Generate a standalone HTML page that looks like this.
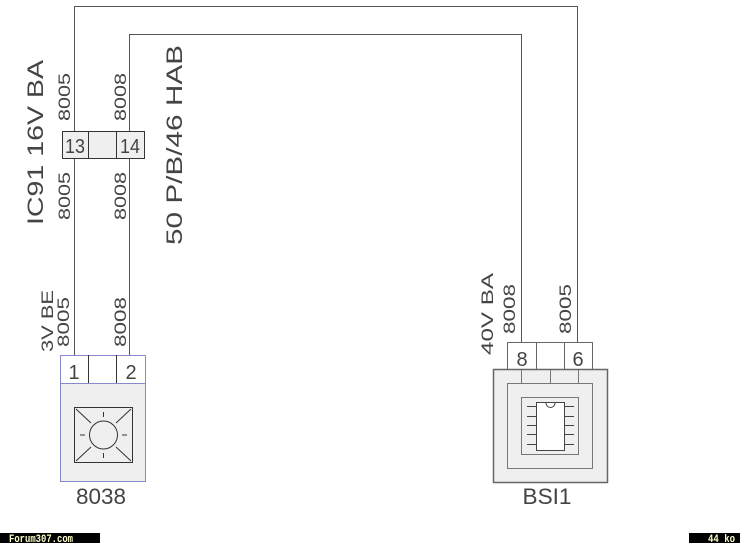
<!DOCTYPE html>
<html><head><meta charset="utf-8"><style>
html,body{margin:0;padding:0;background:#fff;width:740px;height:543px;overflow:hidden}
svg{display:block}
text{font-family:"Liberation Sans",sans-serif;fill:#444}
</style></head><body>
<svg width="740" height="543" viewBox="0 0 740 543" xmlns="http://www.w3.org/2000/svg">
<g fill="none" stroke="#555" stroke-width="1">
<polyline points="74.5,355 74.5,6.5 577.5,6.5 577.5,342"/>
<polyline points="129.5,355 129.5,34.5 521.5,34.5 521.5,342"/>
</g>
<rect x="62.5" y="131.5" width="82" height="27" fill="#efefef" stroke="#333"/>
<line x1="88.5" y1="131" x2="88.5" y2="159" stroke="#333"/>
<line x1="116.5" y1="131" x2="116.5" y2="159" stroke="#333"/>
<text x="75" y="153" font-size="20" text-anchor="middle" textLength="20" lengthAdjust="spacingAndGlyphs">13</text>
<text x="130" y="153" font-size="20" text-anchor="middle" textLength="20" lengthAdjust="spacingAndGlyphs">14</text>
<text transform="translate(43,225) rotate(-90)" font-size="22" textLength="165" lengthAdjust="spacingAndGlyphs">IC91  16V  BA</text>
<text transform="translate(182,245) rotate(-90)" font-size="22" textLength="200" lengthAdjust="spacingAndGlyphs">50  P/B/46  HAB</text>
<g font-size="17">
<text transform="translate(70,121) rotate(-90)" textLength="48" lengthAdjust="spacingAndGlyphs">8005</text>
<text transform="translate(70,220) rotate(-90)" textLength="48" lengthAdjust="spacingAndGlyphs">8005</text>
<text transform="translate(126,121) rotate(-90)" textLength="48" lengthAdjust="spacingAndGlyphs">8008</text>
<text transform="translate(126,220) rotate(-90)" textLength="48" lengthAdjust="spacingAndGlyphs">8008</text>
<text transform="translate(69,347) rotate(-90)" textLength="50" lengthAdjust="spacingAndGlyphs">8005</text>
<text transform="translate(126,347) rotate(-90)" textLength="50" lengthAdjust="spacingAndGlyphs">8008</text>
<text transform="translate(53,352) rotate(-90)" textLength="62" lengthAdjust="spacingAndGlyphs">3V  BE</text>
<text transform="translate(515,334) rotate(-90)" textLength="50" lengthAdjust="spacingAndGlyphs">8008</text>
<text transform="translate(571,334) rotate(-90)" textLength="50" lengthAdjust="spacingAndGlyphs">8005</text>
<text transform="translate(493,355) rotate(-90)" textLength="82" lengthAdjust="spacingAndGlyphs">40V  BA</text>
</g>
<rect x="60.5" y="355.5" width="85" height="28" fill="#fff" stroke="#8888cc"/>
<line x1="88.5" y1="355" x2="88.5" y2="383" stroke="#333"/>
<line x1="116.5" y1="355" x2="116.5" y2="383" stroke="#333"/>
<text x="74" y="379" font-size="20" text-anchor="middle">1</text>
<text x="131" y="379" font-size="20" text-anchor="middle">2</text>
<rect x="60.5" y="383.5" width="85" height="98" fill="#efefef" stroke="#8888cc"/>
<g stroke="#333" fill="none">
<rect x="74.5" y="407.5" width="58" height="55"/>
<circle cx="103.5" cy="435" r="14"/>
<line x1="103.5" y1="412" x2="103.5" y2="417"/>
<line x1="103.5" y1="453" x2="103.5" y2="458"/>
<line x1="80" y1="435" x2="85" y2="435"/>
<line x1="122" y1="435" x2="127" y2="435"/>
<line x1="76" y1="409" x2="91" y2="423"/>
<line x1="131" y1="409" x2="116" y2="423"/>
<line x1="76" y1="461" x2="91" y2="447"/>
<line x1="131" y1="461" x2="116" y2="447"/>
</g>
<text x="101" y="504" font-size="22" text-anchor="middle" textLength="50" lengthAdjust="spacingAndGlyphs">8038</text>
<rect x="507.5" y="342.5" width="85" height="27" fill="#fff" stroke="#666"/>
<line x1="536.5" y1="342" x2="536.5" y2="370" stroke="#666"/>
<line x1="564.5" y1="342" x2="564.5" y2="370" stroke="#666"/>
<text x="522" y="366" font-size="20" text-anchor="middle">8</text>
<text x="578" y="366" font-size="20" text-anchor="middle">6</text>
<rect x="493.5" y="369.5" width="114" height="113" fill="#efefef" stroke="#666" stroke-width="1.5"/>
<g stroke="#777" fill="none">
<line x1="521.5" y1="370" x2="521.5" y2="383"/>
<line x1="550.5" y1="370" x2="550.5" y2="383"/>
<line x1="578.5" y1="370" x2="578.5" y2="383"/>
<rect x="507.5" y="383.5" width="85" height="85"/>
<rect x="521.5" y="397.5" width="57" height="57"/>
</g>
<rect x="536.5" y="402.5" width="28" height="48" fill="#fff" stroke="#444"/>
<path d="M546 403 a4 4 0 0 0 9 0" fill="none" stroke="#444"/>
<g stroke="#444">
<line x1="527" y1="406.5" x2="536" y2="406.5"/><line x1="527" y1="416.5" x2="536" y2="416.5"/><line x1="527" y1="425.5" x2="536" y2="425.5"/><line x1="527" y1="434.5" x2="536" y2="434.5"/><line x1="527" y1="444.5" x2="536" y2="444.5"/>
<line x1="565" y1="406.5" x2="574" y2="406.5"/><line x1="565" y1="416.5" x2="574" y2="416.5"/><line x1="565" y1="425.5" x2="574" y2="425.5"/><line x1="565" y1="434.5" x2="574" y2="434.5"/><line x1="565" y1="444.5" x2="574" y2="444.5"/>
</g>
<text x="547" y="504" font-size="22" text-anchor="middle" textLength="49" lengthAdjust="spacingAndGlyphs">BSI1</text>
<rect x="0" y="533" width="100" height="10" fill="#000"/>
<text x="9" y="542" font-size="11" font-weight="bold" style="fill:#ffffcc;font-family:'Liberation Mono',monospace" textLength="64" lengthAdjust="spacingAndGlyphs">Forum307.com</text>
<rect x="689" y="533" width="51" height="10" fill="#000"/>
<text x="708" y="542" font-size="11" font-weight="bold" style="fill:#ffffcc;font-family:'Liberation Mono',monospace" textLength="27" lengthAdjust="spacingAndGlyphs">44 ko</text>
</svg>
</body></html>
